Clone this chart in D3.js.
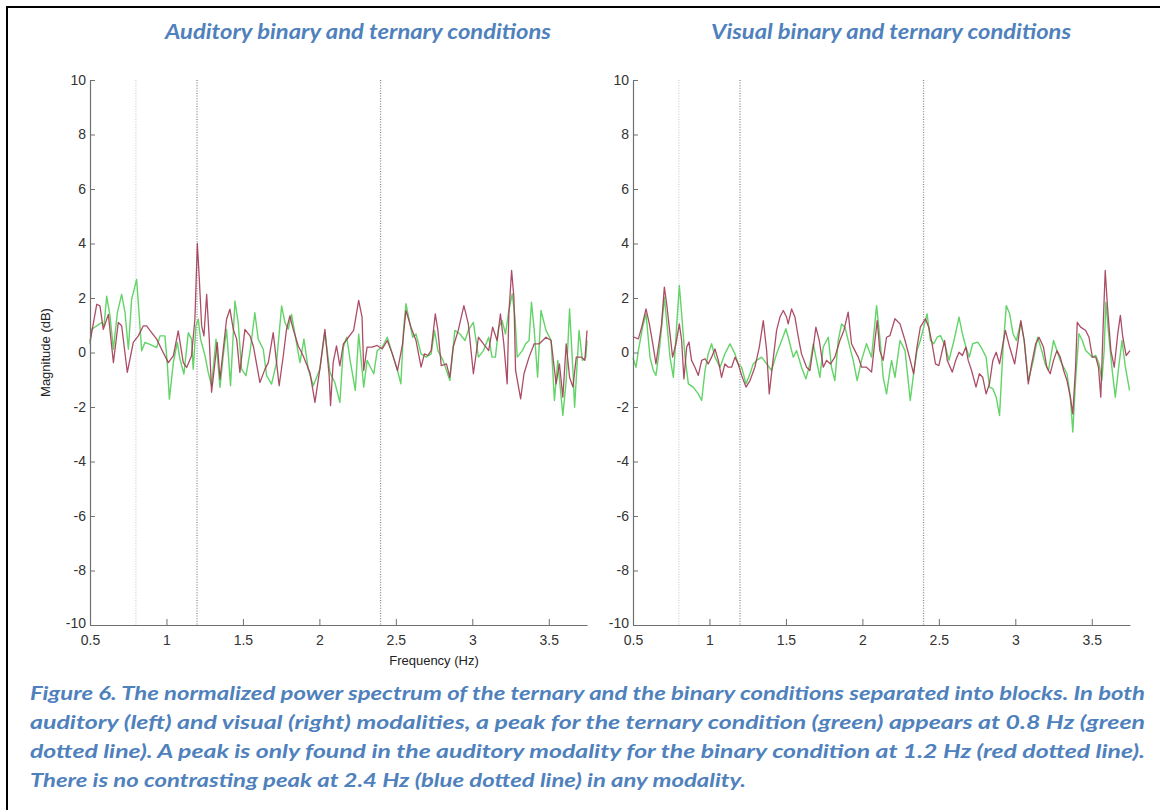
<!DOCTYPE html>
<html>
<head>
<meta charset="utf-8">
<script src="https://cdn.jsdelivr.net/npm/d3@7"></script>
<style>
  html, body { margin: 0; padding: 0; background: #fff; }
  svg { display: block; }
</style>
</head>
<body>
<svg id="fig" width="1160" height="810"></svg>
<script>
// Normalized power spectrum, [frequency (Hz), magnitude (dB)]
const audBinary = [[0.5,0.4],[0.511,0.73],[0.544,1.77],[0.565,1.71],[0.587,0.85],[0.62,1.4],[0.653,-0.37],[0.685,1.1],[0.707,0.98],[0.744,-0.73],[0.783,0.37],[0.816,0.61],[0.849,0.98],[0.87,0.98],[0.903,0.73],[0.936,0.49],[0.968,0.12],[1.012,-0.37],[1.045,-0.12],[1.077,0.79],[1.11,-0.37],[1.132,-0.55],[1.164,-0.12],[1.186,1.22],[1.202,4.0],[1.215,2.68],[1.23,0.98],[1.245,0.61],[1.263,2.13],[1.28,0.49],[1.295,-1.46],[1.317,-0.37],[1.332,0.37],[1.35,-0.98],[1.393,1.22],[1.415,1.59],[1.437,0.85],[1.459,0.49],[1.48,-0.73],[1.513,0.85],[1.546,0.61],[1.568,0.24],[1.611,-1.1],[1.644,-0.61],[1.666,-0.37],[1.698,0.73],[1.72,-0.37],[1.737,-1.22],[1.764,-0.12],[1.785,0.85],[1.807,1.34],[1.829,0.85],[1.862,0.24],[1.894,-0.12],[1.938,-0.73],[1.971,-1.83],[2.003,-0.61],[2.036,0.85],[2.064,-0.85],[2.073,-1.95],[2.09,-0.37],[2.112,0.24],[2.134,-0.49],[2.157,0.32],[2.19,0.56],[2.224,0.81],[2.257,1.91],[2.279,1.3],[2.29,-0.66],[2.312,0.2],[2.345,0.2],[2.378,0.26],[2.411,0.13],[2.444,0.44],[2.477,-0.05],[2.511,-0.66],[2.544,0.32],[2.566,1.54],[2.599,0.93],[2.632,0.44],[2.665,-0.54],[2.687,-0.05],[2.709,-0.11],[2.731,0.07],[2.758,1.42],[2.775,0.81],[2.797,-0.48],[2.831,-0.42],[2.853,-0.91],[2.875,0.2],[2.908,0.81],[2.945,1.72],[2.974,1.05],[3.007,-0.78],[3.04,0.56],[3.073,0.32],[3.107,0.07],[3.133,0.93],[3.162,0.44],[3.184,1.42],[3.206,0.32],[3.228,-1.15],[3.239,1.42],[3.257,3.01],[3.272,2.03],[3.283,-0.66],[3.316,-1.7],[3.338,-0.78],[3.371,-0.17],[3.405,0.32],[3.438,0.32],[3.482,0.56],[3.515,0.44],[3.548,-1.15],[3.57,-0.42],[3.592,-1.64],[3.614,0.32],[3.636,-0.91],[3.658,-1.27],[3.68,-0.17],[3.714,-0.17],[3.736,-0.29],[3.75,0.81]];

const audTernary = [[0.5,0.3],[0.511,0.85],[0.544,0.98],[0.576,1.1],[0.592,0.98],[0.609,2.07],[0.631,1.34],[0.653,0.12],[0.679,1.46],[0.707,2.13],[0.729,1.46],[0.751,0.12],[0.772,1.95],[0.805,2.68],[0.822,1.34],[0.838,0.06],[0.859,0.37],[0.892,0.3],[0.936,0.18],[0.958,0.61],[0.99,0.61],[1.005,-0.37],[1.019,-1.71],[1.045,-0.37],[1.071,0.37],[1.088,-0.24],[1.114,-0.79],[1.143,0.73],[1.164,0.49],[1.175,-0.61],[1.193,0.98],[1.208,1.22],[1.223,0.49],[1.252,-0.12],[1.273,-0.73],[1.295,-1.22],[1.324,0.49],[1.35,-1.28],[1.371,-0.12],[1.393,0.85],[1.419,-1.22],[1.448,1.89],[1.469,1.1],[1.491,-0.61],[1.52,-0.85],[1.546,0.0],[1.578,1.46],[1.6,0.49],[1.633,0.12],[1.655,-0.85],[1.687,-1.16],[1.72,-0.37],[1.753,1.71],[1.775,1.1],[1.796,0.85],[1.818,1.4],[1.846,0.49],[1.873,-0.37],[1.899,0.49],[1.927,-0.61],[1.96,-1.22],[2.003,-0.61],[2.036,0.73],[2.069,-0.73],[2.101,-1.1],[2.134,-1.83],[2.157,0.2],[2.179,0.56],[2.201,-0.29],[2.235,-1.39],[2.257,0.68],[2.29,-1.27],[2.312,-0.29],[2.334,-0.54],[2.356,-0.78],[2.378,0.07],[2.411,0.2],[2.444,0.56],[2.477,-0.05],[2.511,-0.66],[2.533,-1.15],[2.55,0.81],[2.566,1.79],[2.588,1.17],[2.61,0.56],[2.632,0.68],[2.665,-0.05],[2.698,-0.17],[2.731,-0.05],[2.753,0.81],[2.775,0.07],[2.809,-0.29],[2.853,-1.03],[2.886,0.81],[2.919,0.68],[2.952,0.44],[2.974,0.81],[3.007,1.11],[3.04,-0.17],[3.073,0.07],[3.107,0.56],[3.129,-0.17],[3.151,-0.17],[3.173,0.93],[3.195,1.17],[3.217,0.68],[3.239,1.54],[3.261,2.15],[3.279,1.3],[3.294,-0.17],[3.327,0.07],[3.349,0.32],[3.371,0.44],[3.387,1.85],[3.405,0.81],[3.427,-0.91],[3.449,1.54],[3.482,0.81],[3.515,0.44],[3.537,-1.76],[3.559,-0.29],[3.592,-2.31],[3.614,-1.03],[3.636,1.6],[3.658,-0.66],[3.669,-2.01],[3.698,0.81],[3.72,-0.29],[3.742,-0.17],[3.75,0.44]];

const visBinary = [[0.5,0.6],[0.507,0.56],[0.535,0.5],[0.557,0.93],[0.585,1.6],[0.607,1.05],[0.633,0.2],[0.65,-0.42],[0.672,0.44],[0.687,1.05],[0.705,2.4],[0.72,1.79],[0.737,0.93],[0.759,-0.17],[0.781,0.32],[0.803,1.05],[0.818,0.44],[0.833,-0.97],[0.851,0.2],[0.866,0.38],[0.883,-0.29],[0.905,-0.54],[0.927,-0.84],[0.949,-0.29],[0.971,-0.23],[0.992,-0.42],[1.014,-0.17],[1.036,0.13],[1.058,-0.29],[1.079,-0.91],[1.101,-0.42],[1.123,-0.54],[1.145,-0.54],[1.167,-0.17],[1.188,-0.42],[1.21,-0.84],[1.239,-1.27],[1.265,-1.03],[1.297,-0.54],[1.326,0.2],[1.352,1.17],[1.374,0.07],[1.391,-1.52],[1.413,-0.42],[1.439,0.81],[1.461,1.3],[1.483,1.54],[1.504,1.3],[1.515,1.05],[1.537,1.6],[1.559,1.3],[1.581,0.56],[1.602,-0.05],[1.635,-0.54],[1.657,-0.66],[1.679,0.2],[1.696,0.93],[1.718,0.44],[1.744,-0.54],[1.766,-0.29],[1.792,-0.42],[1.82,-0.17],[1.853,0.44],[1.879,0.81],[1.907,1.48],[1.929,0.32],[1.951,0.07],[1.973,-0.17],[1.995,-0.54],[2.027,-0.54],[2.06,-0.72],[2.082,0.44],[2.097,1.17],[2.114,0.07],[2.136,-0.29],[2.158,0.56],[2.18,0.62],[2.213,1.24],[2.246,1.05],[2.279,0.44],[2.313,-0.29],[2.335,-0.78],[2.357,0.2],[2.379,0.93],[2.412,1.24],[2.434,0.93],[2.456,0.32],[2.478,-0.42],[2.5,-0.48],[2.522,0.07],[2.538,0.44],[2.555,-0.29],[2.588,-0.72],[2.61,-0.29],[2.632,0.01],[2.654,-0.11],[2.677,0.2],[2.692,-0.29],[2.714,-0.66],[2.743,-1.27],[2.765,-0.78],[2.787,-0.91],[2.809,-1.52],[2.831,-1.15],[2.853,-0.29],[2.875,0.01],[2.897,-0.42],[2.919,0.32],[2.935,0.81],[2.963,0.2],[2.996,-0.42],[3.019,0.44],[3.036,1.17],[3.058,0.44],[3.085,-1.15],[3.107,-0.42],[3.133,0.32],[3.155,0.56],[3.184,0.2],[3.206,-0.54],[3.228,-0.78],[3.25,-0.29],[3.272,0.07],[3.294,-0.17],[3.316,-0.66],[3.338,-1.03],[3.36,-1.64],[3.376,-2.25],[3.394,-0.54],[3.405,1.11],[3.427,0.93],[3.46,0.81],[3.482,0.56],[3.504,-0.17],[3.526,-0.17],[3.544,-0.54],[3.559,-1.64],[3.575,1.05],[3.588,3.01],[3.603,1.66],[3.625,0.07],[3.647,-0.54],[3.67,0.69],[3.687,1.36],[3.703,0.56],[3.725,-0.11],[3.75,0.07]];

const visTernary = [[0.5,-0.2],[0.52,-0.54],[0.535,0.07],[0.563,0.93],[0.585,1.42],[0.611,-0.17],[0.633,-0.66],[0.65,-0.84],[0.672,0.07],[0.687,0.93],[0.705,2.03],[0.724,0.93],[0.742,-0.17],[0.764,-0.91],[0.785,0.93],[0.803,2.46],[0.818,1.42],[0.84,-0.17],[0.862,-1.15],[0.894,-1.27],[0.927,-1.52],[0.949,-1.76],[0.971,-0.66],[0.992,-0.05],[1.014,0.32],[1.036,-0.17],[1.069,-0.54],[1.101,-0.05],[1.134,0.32],[1.167,-0.05],[1.188,-0.42],[1.21,-0.54],[1.239,-1.15],[1.265,-0.78],[1.286,-0.42],[1.308,-0.29],[1.341,-0.17],[1.374,-0.42],[1.406,-0.66],[1.439,-0.05],[1.472,0.44],[1.5,0.87],[1.526,0.32],[1.548,-0.17],[1.57,0.07],[1.602,-0.54],[1.631,-0.97],[1.657,-0.42],[1.679,0.32],[1.7,-0.29],[1.722,-0.91],[1.744,0.2],[1.777,0.56],[1.798,-0.54],[1.82,-1.03],[1.842,0.44],[1.864,1.05],[1.886,0.93],[1.918,0.2],[1.94,-0.29],[1.966,-1.03],[1.994,-0.29],[2.027,0.32],[2.06,-0.17],[2.093,1.72],[2.114,0.56],[2.136,-0.91],[2.158,-1.52],[2.18,-0.66],[2.191,-0.29],[2.213,-0.91],[2.246,0.44],[2.279,0.07],[2.313,-1.76],[2.335,-0.78],[2.357,0.07],[2.379,0.44],[2.401,0.93],[2.423,1.42],[2.445,0.44],[2.467,0.32],[2.489,0.56],[2.511,0.62],[2.544,0.2],[2.566,-0.29],[2.599,0.44],[2.632,1.3],[2.654,0.69],[2.677,0.2],[2.699,-0.17],[2.721,0.32],[2.754,0.38],[2.776,0.2],[2.809,-0.17],[2.831,-1.27],[2.853,-1.33],[2.875,-1.64],[2.897,-2.31],[2.919,0.07],[2.941,1.72],[2.963,1.42],[2.985,0.69],[3.007,0.44],[3.036,1.11],[3.058,0.44],[3.085,-1.03],[3.118,-0.29],[3.146,0.56],[3.173,0.07],[3.195,-0.42],[3.217,-0.66],[3.25,0.44],[3.272,0.07],[3.294,-0.29],[3.316,-0.54],[3.338,-0.78],[3.36,-1.64],[3.376,-2.92],[3.394,-1.03],[3.416,0.69],[3.438,0.44],[3.46,0.07],[3.482,-0.05],[3.504,-0.17],[3.526,-0.11],[3.548,-0.42],[3.566,-1.03],[3.581,0.07],[3.592,1.85],[3.614,0.44],[3.636,-0.78],[3.654,-1.64],[3.676,-0.54],[3.698,0.44],[3.72,-0.54],[3.747,-1.39]];

// Reference frequencies marked with dotted lines
const markerFreqs = [0.8, 1.2, 2.4];
const markerColors = ["#c9d6d0", "#8a8a8a", "#8a8a8a"];

const xTicks = [0.5, 1, 1.5, 2, 2.5, 3, 3.5];
const yTicks = [-10, -8, -6, -4, -2, 0, 2, 4, 6, 8, 10];
const xDomain = [0.5, 3.75];
const yDomain = [-10, 10];

const panelTitles = ["Auditory binary and ternary conditions", "Visual binary and ternary conditions"];
const captionLines = [
  "Figure 6. The normalized power spectrum of the ternary and the binary conditions separated into blocks. In both",
  "auditory (left) and visual (right) modalities, a peak for the ternary condition (green) appears at 0.8 Hz (green",
  "dotted line). A peak is only found in the auditory modality for the binary condition at 1.2 Hz (red dotted line).",
  "There is no contrasting peak at 2.4 Hz (blue dotted line) in any modality."
];

const binaryColor = "#a33a55";
const ternaryColor = "#62d468";
const blue = "#4f81bd";

const svg = d3.select("#fig");

// page frame (top and left rules)
svg.append("line").attr("x1", 7).attr("x2", 1160).attr("y1", 7).attr("y2", 7)
  .attr("stroke", "#000").attr("stroke-width", 2);
svg.append("line").attr("x1", 7).attr("x2", 7).attr("y1", 6).attr("y2", 810)
  .attr("stroke", "#000").attr("stroke-width", 2);

const panels = [
  { left: 90, right: 587, title: panelTitles[0], titleX: 358, titleW: 386, binary: audBinary, ternary: audTernary, labels: true },
  { left: 633, right: 1130, title: panelTitles[1], titleX: 891, titleW: 360, binary: visBinary, ternary: visTernary, labels: false }
];
const plotTop = 80, plotBottom = 625;
const tickFont = "'Liberation Sans', Arial, sans-serif";

panels.forEach(p => {
  const x = d3.scaleLinear().domain(xDomain).range([p.left, p.right]);
  const y = d3.scaleLinear().domain(yDomain).range([plotBottom, plotTop]);
  const g = svg.append("g");

  // panel title
  g.append("text")
    .attr("x", p.titleX).attr("y", 39)
    .attr("text-anchor", "middle")
    .attr("font-family", "Lato, 'Open Sans', sans-serif")
    .attr("font-style", "italic").attr("font-weight", "bold")
    .attr("font-size", 20).attr("fill", blue)
    .attr("textLength", p.titleW).attr("lengthAdjust", "spacingAndGlyphs")
    .text(p.title);

  // dotted reference lines
  markerFreqs.forEach((f, i) => {
    g.append("line")
      .attr("x1", x(f)).attr("x2", x(f))
      .attr("y1", y(yDomain[1])).attr("y2", y(yDomain[0]))
      .attr("stroke", markerColors[i]).attr("stroke-width", 1.3)
      .attr("stroke-dasharray", "1,1.6");
  });

  const line = d3.line().x(d => x(d[0])).y(d => y(d[1]));

  g.append("path").datum(p.ternary).attr("d", line)
    .attr("fill", "none").attr("stroke", ternaryColor).attr("stroke-width", 1.4)
    .attr("stroke-linejoin", "round");
  g.append("path").datum(p.binary).attr("d", line)
    .attr("fill", "none").attr("stroke", binaryColor).attr("stroke-width", 1.3)
    .attr("stroke-opacity", 0.9).attr("stroke-linejoin", "round");

  // axes (inward ticks, no box)
  const fmt = d => String(d);
  const xAxis = d3.axisBottom(x).tickValues(xTicks).tickFormat(fmt).tickSizeInner(-6).tickSizeOuter(0).tickPadding(9);
  const yAxis = d3.axisLeft(y).tickValues(yTicks).tickFormat(fmt).tickSizeInner(-5).tickSizeOuter(0).tickPadding(4);

  const gx = g.append("g").attr("transform", `translate(0,${plotBottom})`).call(xAxis);
  const gy = g.append("g").attr("transform", `translate(${p.left},0)`).call(yAxis);
  [gx, gy].forEach(a => {
    a.attr("font-size", null).attr("font-family", null);
    a.select(".domain").attr("stroke", "#707070").attr("stroke-width", 1.2);
    a.selectAll(".tick line").attr("stroke", "#707070");
    a.selectAll(".tick text").attr("fill", "#333")
      .style("font-size", "14px").style("font-family", tickFont);
  });
  gx.selectAll(".tick text").attr("dy", "0.75em");
  // lowest y label sits above the x axis corner
  gy.selectAll(".tick").filter(d => d === -10).select("text").attr("dy", "0.15em");

  if (p.labels) {
    g.append("text")
      .attr("transform", `translate(50,${y(0)}) rotate(-90)`)
      .attr("text-anchor", "middle")
      .style("font-family", tickFont).style("font-size", "13px")
      .attr("fill", "#222")
      .text("Magnitude (dB)");
    g.append("text")
      .attr("x", 434).attr("y", 665)
      .attr("text-anchor", "middle")
      .style("font-family", tickFont).style("font-size", "13px")
      .attr("fill", "#222")
      .text("Frequency (Hz)");
  }
});

// caption
const lineY = [700, 729, 758, 787];
captionLines.forEach((t, i) => {
  const txt = svg.append("text")
    .attr("x", 30).attr("y", lineY[i])
    .attr("font-family", "Lato, 'Open Sans', sans-serif")
    .attr("font-style", "italic").attr("font-weight", "bold")
    .attr("font-size", 19).attr("fill", blue)
    .attr("lengthAdjust", "spacingAndGlyphs")
    .text(t);
  txt.attr("textLength", i < 3 ? 1115 : 716);
});
</script>
</body>
</html>
